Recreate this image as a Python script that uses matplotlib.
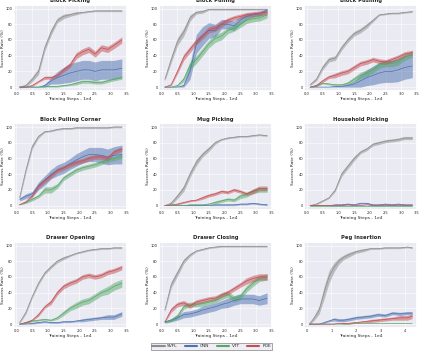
import matplotlib
matplotlib.use("Agg")
import matplotlib.pyplot as plt
import seaborn as sns
import numpy as np

sns.set_theme(style="darkgrid")
plt.rcParams['font.family'] = ['DejaVu Sans']

methods = ["SVFL", "CNN", "VTT", "POE"]
colors = ["#8c8c8c", "#4c72b0", "#55a868", "#c44e52"]

steps = [0.1, 0.3, 0.5, 0.7, 0.9, 1.1, 1.3, 1.5, 1.7, 1.9, 2.1, 2.3, 2.5, 2.7, 2.9, 3.1, 3.35]
peg_steps = [0.1, 0.3, 0.5, 0.7, 0.9, 1.1, 1.3, 1.5, 1.7, 2.0, 2.3, 2.6, 2.9, 3.2, 3.5, 3.8, 4.1, 4.3]

# Block Picking
bpick_svfl = [0, 2, 10, 20, 50, 70, 85, 90, 92, 94, 95, 96, 97, 97, 97, 97, 97]
bpick_cnn = [0, 0, 0, 0, 2, 8, 12, 15, 18, 20, 22, 22, 20, 22, 22, 22, 24]
bpick_vtt = [0, 0, 0, 0, 1, 1, 1, 2, 3, 5, 7, 7, 6, 6, 8, 10, 12]
bpick_poe = [0, 0, 2, 7, 12, 12, 15, 22, 28, 40, 45, 48, 42, 50, 48, 53, 60]
bpick_sd = [[1, 2, 3, 4, 4, 4, 3, 3, 2, 2, 1, 1, 1, 1, 1, 1, 1],
            [0, 0, 0, 0, 2, 4, 8, 10, 12, 12, 12, 12, 12, 12, 12, 12, 12],
            [0, 0, 0, 0, 1, 1, 1, 1, 1, 2, 2, 2, 2, 2, 2, 2, 2],
            [0, 0, 1, 1, 2, 2, 2, 3, 3, 4, 4, 4, 4, 4, 4, 4, 4]]

# Block Pulling
bpull_svfl = [10, 35, 58, 70, 88, 95, 96, 99, 99, 99, 99, 99, 99, 99, 99, 99, 99]
bpull_cnn = [0, 0, 0, 2, 20, 55, 65, 72, 72, 80, 80, 78, 85, 90, 92, 93, 98]
bpull_vtt = [0, 0, 2, 10, 28, 35, 45, 55, 62, 65, 72, 75, 80, 85, 87, 88, 92]
bpull_poe = [0, 3, 20, 38, 48, 58, 65, 73, 75, 80, 85, 88, 90, 92, 93, 94, 95]
bpull_sd = [[2, 4, 5, 5, 4, 2, 2, 1, 1, 1, 1, 1, 1, 1, 1, 1, 1],
            [0, 0, 0, 2, 10, 12, 12, 10, 8, 6, 6, 6, 5, 4, 3, 3, 2],
            [0, 0, 1, 3, 5, 5, 5, 5, 5, 5, 4, 4, 4, 4, 4, 4, 4],
            [0, 1, 3, 4, 4, 4, 4, 4, 4, 4, 3, 3, 3, 3, 3, 3, 3]]

# Block Pushing
bpush_svfl = [3, 10, 25, 35, 37, 50, 60, 68, 72, 78, 85, 92, 93, 94, 94, 95, 96]
bpush_cnn = [0, 0, 0, 0, 1, 1, 2, 4, 8, 12, 15, 18, 20, 20, 22, 25, 27]
bpush_vtt = [0, 2, 5, 4, 3, 3, 5, 10, 15, 18, 22, 28, 30, 30, 32, 38, 42]
bpush_poe = [0, 2, 8, 13, 15, 18, 20, 25, 30, 32, 35, 33, 32, 35, 38, 42, 44]
bpush_sd = [[1, 2, 3, 3, 3, 3, 3, 3, 3, 3, 2, 1, 1, 1, 1, 1, 1],
            [0, 0, 0, 0, 1, 1, 2, 4, 8, 10, 12, 13, 14, 14, 15, 15, 15],
            [0, 1, 1, 1, 1, 1, 2, 3, 4, 4, 4, 4, 4, 4, 4, 4, 4],
            [0, 1, 2, 2, 3, 3, 3, 3, 3, 3, 3, 3, 3, 3, 3, 3, 3]]

# Block Pulling Corner
bcorn_svfl = [10, 45, 75, 88, 94, 95, 97, 98, 98, 99, 99, 99, 99, 99, 99, 100, 100]
bcorn_cnn = [8, 12, 15, 25, 32, 40, 45, 48, 53, 58, 62, 65, 65, 64, 62, 64, 65]
bcorn_vtt = [1, 4, 8, 12, 20, 20, 25, 35, 40, 45, 48, 50, 52, 55, 58, 60, 63]
bcorn_poe = [1, 5, 12, 25, 32, 38, 45, 48, 52, 55, 57, 60, 62, 62, 60, 68, 72]
bcorn_sd = [[2, 3, 3, 2, 1, 1, 1, 1, 1, 1, 1, 1, 1, 1, 1, 1, 1],
            [2, 3, 3, 5, 6, 6, 7, 7, 7, 8, 8, 9, 9, 10, 10, 11, 12],
            [0, 1, 2, 2, 4, 4, 3, 3, 3, 3, 3, 3, 3, 3, 3, 3, 3],
            [0, 1, 2, 3, 3, 3, 3, 3, 3, 3, 3, 3, 3, 3, 3, 3, 3]]

# Mug Picking
mug_svfl = [0, 3, 12, 22, 40, 55, 65, 72, 80, 84, 86, 87, 88, 88, 89, 90, 89]
mug_cnn = [0, 0, 0, 0, 0, 0, 0, 0, 1, 1, 1, 1, 2, 2, 3, 2, 1]
mug_vtt = [0, 0, 0, 0, 1, 1, 1, 2, 4, 6, 8, 7, 12, 14, 18, 20, 20]
mug_poe = [0, 1, 2, 4, 6, 7, 10, 13, 15, 18, 17, 20, 18, 15, 18, 22, 22]
mug_sd = [[0, 2, 3, 4, 4, 4, 3, 3, 2, 1, 1, 1, 1, 1, 1, 1, 1],
          [0, 0, 0, 0, 0, 0, 0, 0, 1, 1, 1, 1, 1, 1, 1, 1, 1],
          [0, 0, 0, 0, 1, 1, 1, 1, 2, 2, 2, 2, 3, 3, 3, 3, 3],
          [0, 0, 1, 1, 1, 1, 2, 2, 2, 2, 2, 2, 2, 2, 3, 3, 3]]

# Household Picking
house_svfl = [0, 2, 6, 10, 20, 40, 50, 60, 68, 72, 78, 80, 82, 83, 84, 86, 86]
house_cnn = [0, 0, 0, 0, 1, 1, 2, 1, 3, 3, 1, 1, 2, 1, 2, 1, 1]
house_vtt = [0, 0, 0, 0, 0, 0, 0, 0, 0, 0, 0, 0, 0, 0, 0, 0, 0]
house_poe = [0, 0, 0, 0, 0, 0, 1, 0, 0, 1, 0, 0, 0, 0, 0, 0, 0]
house_sd = [[0, 1, 1, 1, 2, 3, 3, 3, 2, 2, 2, 2, 2, 2, 2, 2, 2],
            [0, 0, 0, 0, 1, 1, 1, 1, 1, 1, 1, 1, 1, 1, 1, 1, 1],
            [0, 0, 0, 0, 0, 0, 0, 0, 0, 0, 0, 0, 0, 0, 0, 0, 0],
            [0, 0, 0, 0, 0, 0, 0, 0, 0, 0, 0, 0, 0, 0, 0, 0, 0]]

# Drawer Opening
dopen_svfl = [2, 15, 35, 52, 65, 73, 80, 84, 87, 90, 92, 94, 95, 96, 96, 97, 97]
dopen_cnn = [0, 0, 1, 2, 3, 2, 2, 3, 3, 4, 5, 6, 7, 8, 9, 9, 13]
dopen_vtt = [0, 2, 4, 5, 6, 5, 8, 14, 20, 24, 28, 30, 35, 40, 43, 48, 52]
dopen_poe = [0, 2, 5, 12, 22, 28, 40, 48, 52, 55, 60, 62, 60, 62, 66, 68, 72]
dopen_sd = [[1, 2, 2, 2, 2, 2, 2, 2, 1, 1, 1, 1, 1, 1, 1, 1, 1],
            [0, 0, 1, 1, 1, 1, 1, 1, 1, 1, 2, 2, 2, 2, 3, 3, 3],
            [0, 1, 1, 1, 1, 1, 2, 3, 3, 4, 4, 4, 4, 4, 5, 5, 5],
            [0, 1, 1, 2, 2, 3, 3, 3, 3, 3, 3, 3, 3, 3, 3, 3, 3]]

# Drawer Closing
dclose_svfl = [18, 50, 65, 80, 88, 93, 95, 97, 98, 99, 99, 99, 99, 99, 99, 99, 99]
dclose_cnn = [3, 5, 8, 12, 13, 15, 18, 20, 22, 25, 27, 30, 32, 32, 32, 30, 33]
dclose_vtt = [2, 5, 10, 22, 25, 25, 26, 28, 30, 35, 38, 32, 35, 45, 52, 58, 60]
dclose_poe = [3, 18, 25, 27, 23, 28, 30, 32, 33, 37, 40, 45, 50, 55, 58, 60, 60]
dclose_sd = [[2, 4, 4, 3, 2, 1, 1, 1, 1, 1, 1, 1, 1, 1, 1, 1, 1],
             [1, 2, 3, 4, 4, 4, 5, 5, 5, 5, 6, 6, 6, 6, 6, 6, 7],
             [1, 2, 3, 3, 3, 3, 3, 3, 3, 4, 4, 4, 4, 4, 4, 4, 4],
             [1, 3, 3, 3, 3, 3, 3, 3, 3, 3, 3, 3, 3, 4, 4, 4, 4]]

# Peg Insertion
peg_svfl = [0, 8, 18, 40, 60, 72, 80, 85, 88, 92, 94, 96, 96, 97, 97, 97, 98, 97]
peg_cnn = [0, 0, 0, 2, 4, 6, 5, 5, 6, 8, 9, 10, 12, 11, 14, 13, 14, 14]
peg_vtt = [0, 0, 0, 0, 0, 0, 0, 0, 0, 1, 1, 1, 1, 1, 1, 1, 1, 1]
peg_poe = [0, 0, 0, 0, 0, 0, 1, 1, 1, 2, 3, 4, 5, 6, 7, 8, 8, 10]
peg_sd = [[1, 3, 5, 8, 8, 6, 4, 3, 3, 2, 2, 1, 1, 1, 1, 1, 1, 1],
          [0, 0, 0, 1, 1, 2, 2, 2, 2, 2, 2, 2, 2, 2, 2, 2, 2, 2],
          [0, 0, 0, 0, 0, 0, 0, 0, 0, 0, 0, 0, 0, 0, 0, 0, 0, 0],
          [0, 0, 0, 0, 0, 0, 0, 1, 1, 1, 1, 2, 2, 2, 2, 3, 3, 3]]

panels = [
    ("Block Picking", steps, [bpick_svfl, bpick_cnn, bpick_vtt, bpick_poe], bpick_sd),
    ("Block Pulling", steps, [bpull_svfl, bpull_cnn, bpull_vtt, bpull_poe], bpull_sd),
    ("Block Pushing", steps, [bpush_svfl, bpush_cnn, bpush_vtt, bpush_poe], bpush_sd),
    ("Block Pulling Corner", steps, [bcorn_svfl, bcorn_cnn, bcorn_vtt, bcorn_poe], bcorn_sd),
    ("Mug Picking", steps, [mug_svfl, mug_cnn, mug_vtt, mug_poe], mug_sd),
    ("Household Picking", steps, [house_svfl, house_cnn, house_vtt, house_poe], house_sd),
    ("Drawer Opening", steps, [dopen_svfl, dopen_cnn, dopen_vtt, dopen_poe], dopen_sd),
    ("Drawer Closing", steps, [dclose_svfl, dclose_cnn, dclose_vtt, dclose_poe], dclose_sd),
    ("Peg Insertion", peg_steps, [peg_svfl, peg_cnn, peg_vtt, peg_poe], peg_sd),
]

fig, axes = plt.subplots(3, 3, figsize=(4.23, 3.52), dpi=100)
fig.subplots_adjust(left=0.033, right=0.986, top=0.987, bottom=0.068, wspace=0.29, hspace=0.37)

handles = []
for ax, (title, x, series, sds) in zip(axes.flat, panels):
    x = np.array(x)
    for name, col, m, s in zip(methods, colors, series, sds):
        m = np.array(m, dtype=float)
        s = np.array(s, dtype=float)
        ln, = ax.plot(x, m, color=col, lw=0.5, label=name)
        ax.fill_between(x, m - s, m + s, color=col, alpha=0.5, lw=0)
        if title == "Block Picking":
            handles.append(ln)
    ax.set_title(title, fontsize=3.8, fontweight="bold", pad=1.5)
    ax.set_ylim(-5, 105)
    ax.set_yticks([0, 20, 40, 60, 80, 100])
    if title == "Peg Insertion":
        ax.set_xlim(-0.1, 4.5)
        ax.set_xticks([0, 1, 2, 3, 4])
    else:
        ax.set_xlim(-0.08, 3.5)
        ax.set_xticks([0.0, 0.5, 1.0, 1.5, 2.0, 2.5, 3.0, 3.5])
    ax.tick_params(labelsize=2.6, pad=1, length=0)
    ax.set_xlabel("Training Steps - 1e4", fontsize=3.2, labelpad=0.5)
    ax.set_ylabel("Success Rate (%)", fontsize=3.2, labelpad=0.5)
    ax.grid(color="white", lw=0.4)

leg = fig.legend(handles, methods, loc="center", bbox_to_anchor=(0.5, 0.016), ncol=4,
                 fontsize=3.2, handlelength=2.8, columnspacing=1.6, frameon=True,
                 borderpad=0.35, handletextpad=0.6, fancybox=False)
for h in leg.get_lines():
    h.set_linewidth(1.5)
leg.get_frame().set_edgecolor("#444444")
leg.get_frame().set_linewidth(0.4)

fig.savefig("out.png", dpi=100)
